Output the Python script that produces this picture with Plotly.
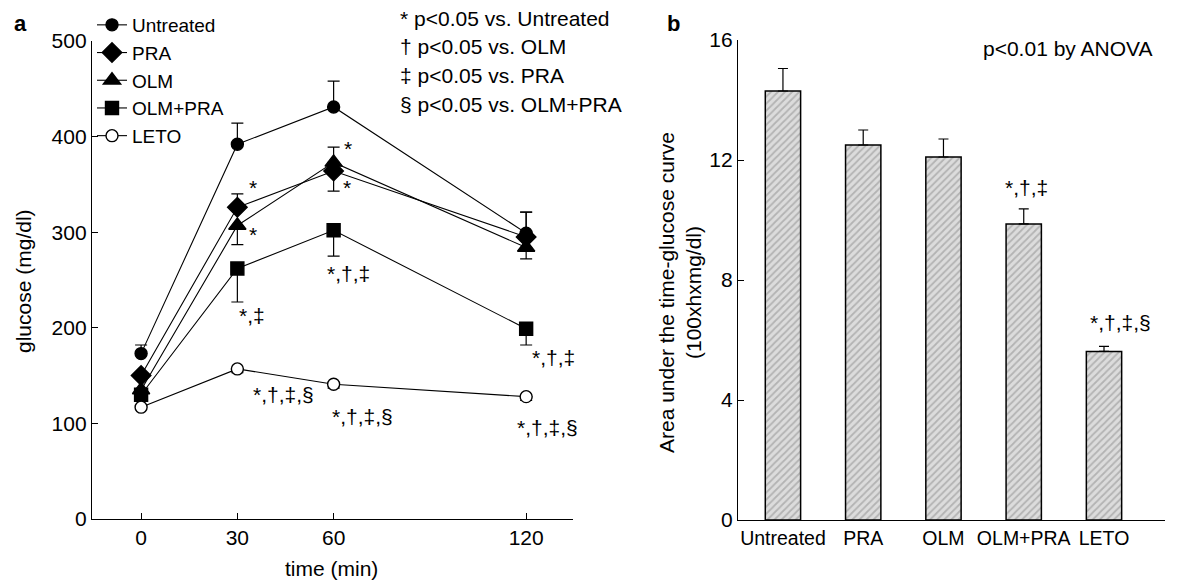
import plotly.graph_objects as go

# ---------------- data: panel a ----------------
times = [0, 30, 60, 120]
groups = ["Untreated", "PRA", "OLM", "OLM+PRA", "LETO"]
glucose = {
    "Untreated": [173, 392, 431, 299],
    "PRA": [150, 326, 364, 295],
    "OLM": [135, 307, 373, 284],
    "OLM+PRA": [130, 262, 302, 199],
    "LETO": [117, 157, 141, 128],
}
err_up = {
    "Untreated": [9, 22, 27, 22],
    "PRA": [0, 14, 0, 26],
    "OLM": [0, 0, 16, 0],
    "OLM+PRA": [0, 0, 0, 0],
    "LETO": [0, 0, 0, 0],
}
err_down = {
    "Untreated": [0, 0, 0, 0],
    "PRA": [0, 0, 21, 0],
    "OLM": [0, 20, 0, 12],
    "OLM+PRA": [0, 35, 27, 17],
    "LETO": [0, 4, 4, 4],
}
sig_a_text = ["*", "*", "*", "*", "*,†,‡", "*,‡", "*,†,‡", "*,†,‡,§", "*,†,‡,§", "*,†,‡,§"]
sig_a_x = [35.0, 35.0, 64.5, 64.2, 64.5, 34.5, 128.5, 44.5, 69.0, 126.5]
sig_a_y = [347, 298, 388, 347, 257, 213, 169, 130, 107, 96]
notes = ["* p<0.05 vs. Untreated", "† p<0.05 vs. OLM", "‡ p<0.05 vs. PRA", "§ p<0.05 vs. OLM+PRA"]

# ---------------- data: panel b ----------------
auc = [14.3, 12.5, 12.1, 9.87, 5.62]
auc_err = [0.75, 0.5, 0.6, 0.5, 0.17]
sig_b_text = ["*,†,‡", "*,†,‡,§"]
sig_b_x = [3.03, 4.2]
sig_b_y = [11.1, 6.6]

FONT = "Liberation Sans, Arial, sans-serif"
W, H = 1179, 584
symbols = {"Untreated": "circle", "PRA": "diamond", "OLM": "triangle-up",
           "OLM+PRA": "square", "LETO": "circle"}
sizes = {"Untreated": 12, "PRA": 15, "OLM": 15, "OLM+PRA": 13, "LETO": 12}
fills = {"Untreated": "black", "PRA": "black", "OLM": "black", "OLM+PRA": "black", "LETO": "white"}

fig = go.Figure()
for g in groups:
    fig.add_trace(go.Scatter(
        x=times, y=glucose[g], name=g, mode="lines+markers",
        line=dict(color="black", width=1.1),
        marker=dict(symbol=symbols[g], size=sizes[g], color=fills[g],
                    line=dict(color="black", width=1.4)),
        error_y=dict(type="data", symmetric=False, array=err_up[g], arrayminus=err_down[g],
                     color="black", thickness=1.2, width=6),
        xaxis="x", yaxis="y",
    ))

fig.add_trace(go.Bar(
    x=groups, y=auc, showlegend=False, width=0.44,
    marker=dict(color="#d6d6d6", line=dict(color="black", width=1.5),
                pattern=dict(shape="/", fgcolor="#8a8a8a", bgcolor="#dcdcdc", size=5, solidity=0.35)),
    error_y=dict(type="data", symmetric=False, array=auc_err, arrayminus=[0] * 5,
                 color="black", thickness=1.2, width=5),
    xaxis="x2", yaxis="y2",
))


def px(x):
    return x / W


def py(y):
    return 1 - y / H


ann = []
for t, x, y in zip(sig_a_text, sig_a_x, sig_a_y):
    ann.append(dict(x=x, y=y, xref="x", yref="y", text=t, showarrow=False,
                    font=dict(size=21, family=FONT, color="black")))
for i, t in enumerate(notes):
    ann.append(dict(x=px(398), y=py(18 + 28.7 * i), xref="paper", yref="paper",
                    text=t, showarrow=False, xanchor="left", yanchor="middle",
                    font=dict(size=21, family=FONT, color="black")))
for t, x, y in zip(sig_b_text, sig_b_x, sig_b_y):
    ann.append(dict(x=x, y=y, xref="x2", yref="y2", text=t, showarrow=False,
                    font=dict(size=21, family=FONT, color="black")))
ann += [
    dict(x=px(20), y=py(24), xref="paper", yref="paper", text="<b>a</b>", showarrow=False,
         xanchor="center", yanchor="middle", font=dict(size=22, family=FONT, color="black")),
    dict(x=px(673), y=py(24), xref="paper", yref="paper", text="<b>b</b>", showarrow=False,
         xanchor="center", yanchor="middle", font=dict(size=22, family=FONT, color="black")),
    dict(x=px(23), y=py(281), xref="paper", yref="paper", text="glucose (mg/dl)",
         textangle=-90, showarrow=False, xanchor="center", yanchor="middle",
         font=dict(size=21, family=FONT, color="black")),
    dict(x=px(331), y=py(568), xref="paper", yref="paper", text="time (min)",
         showarrow=False, xanchor="center", yanchor="middle",
         font=dict(size=21, family=FONT, color="black")),
    dict(x=px(680), y=py(293), xref="paper", yref="paper",
         text="Area under the time-glucose curve<br>(100xhxmg/dl)",
         textangle=-90, showarrow=False, xanchor="center", yanchor="middle",
         font=dict(size=21, family=FONT, color="black")),
    dict(x=px(1067), y=py(48), xref="paper", yref="paper", text="p<0.01 by ANOVA",
         showarrow=False, xanchor="center", yanchor="middle",
         font=dict(size=21, family=FONT, color="black")),
]

axis_common = dict(showgrid=False, zeroline=False, showline=True, linecolor="black", linewidth=1.3,
                   ticks="inside", ticklen=6, tickwidth=1.2, tickcolor="black", automargin=False,
                   tickfont=dict(size=21, family=FONT, color="black"))

fig.update_layout(
    width=W, height=H, margin=dict(l=0, r=0, t=0, b=0, pad=0, autoexpand=False),
    plot_bgcolor="white", paper_bgcolor="white",
    font=dict(family=FONT, color="black"),
    xaxis=dict(domain=[px(92), px(573)], range=[-15.3, 134.6], tickvals=times, anchor="y",
               **axis_common),
    yaxis=dict(domain=[py(519), py(41)], range=[0, 500], tickvals=[0, 100, 200, 300, 400, 500],
               anchor="x", **axis_common),
    xaxis2=dict(domain=[px(738), px(1165)], range=[-0.56, 4.76], anchor="y2",
                **{**axis_common, "ticks": "", "tickfont": dict(size=19.5, family=FONT, color="black")}),
    yaxis2=dict(domain=[py(520), py(40)], range=[0, 16], tickvals=[0, 4, 8, 12, 16],
                anchor="x2", **axis_common),
    legend=dict(x=px(92), y=py(6), xanchor="left", yanchor="top", bgcolor="rgba(0,0,0,0)",
                font=dict(size=19, family=FONT, color="black"), itemwidth=30, tracegroupgap=0),
    annotations=ann,
    showlegend=True,
)

fig.write_html("out.html", config={"displayModeBar": False},
               post_script="document.body.style.margin='0px';document.body.style.overflow='hidden';")
